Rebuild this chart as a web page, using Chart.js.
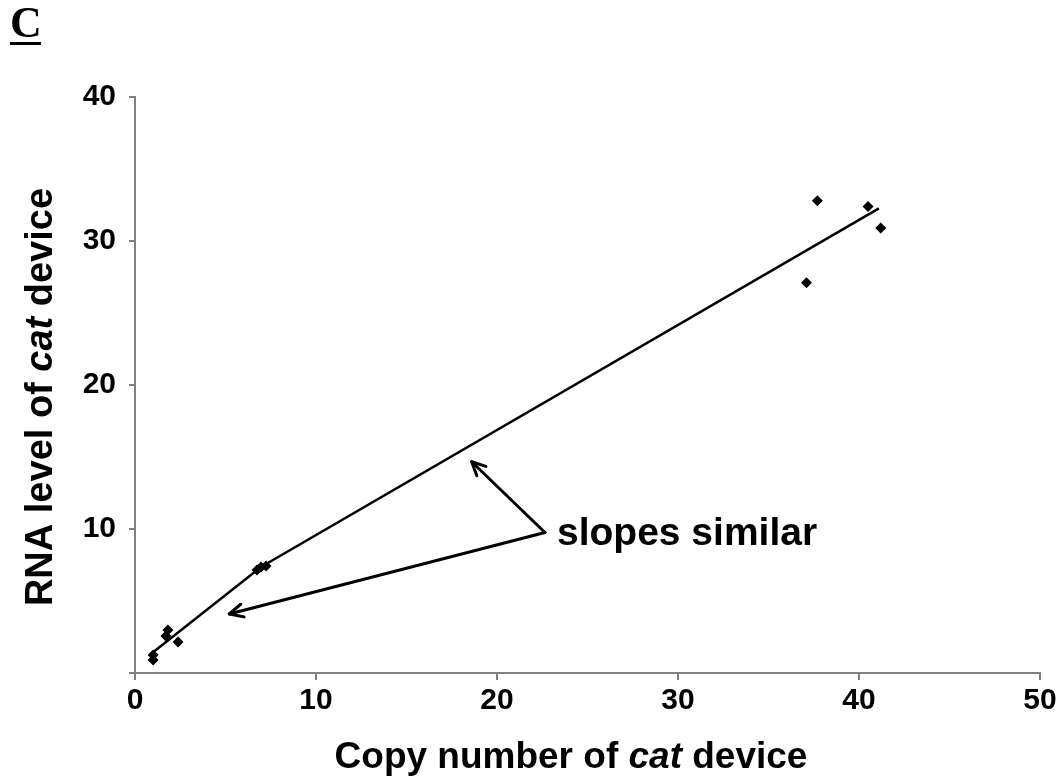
<!DOCTYPE html>
<html>
<head>
<meta charset="utf-8">
<script src="https://cdn.jsdelivr.net/npm/chart.js@4/dist/chart.umd.min.js"></script>
<style>
  html, body { margin: 0; padding: 0; background: #fff; }
  #wrap { width: 1062px; height: 780px; position: relative; }
</style>
</head>
<body>
<div id="wrap"><canvas id="copyChart" width="1062" height="780"></canvas></div>
<script>
// measured points (copy number vs RNA level)
const copyNumber = [1.0, 1.0, 1.71, 1.82, 2.38, 6.74, 6.96, 7.24, 37.1, 37.7, 40.5, 41.2];
const rnaLevel   = [1.25, 0.9, 2.57, 2.99, 2.15, 7.15, 7.36, 7.43, 27.1, 32.8, 32.4, 30.9];

// fitted line
const fitX = [1.05, 6.96, 41.1];
const fitY = [1.5, 7.36, 32.27];

const xTicks = [0, 10, 20, 30, 40, 50];
const yTicks = [10, 20, 30, 40];

const AXIS_GRAY = '#808080';
const FONT = 'Arial, "Liberation Sans", sans-serif';

// axis titles with an italic word, plus the "slopes similar" arrows and panel letter
const decorations = {
  id: 'decorations',
  afterDatasetsDraw(chart) {
    const { ctx, scales: { x, y } } = chart;
    ctx.save();
    ctx.fillStyle = '#000';
    ctx.strokeStyle = '#000';

    // arrows
    const tail = { x: 22.65, y: 9.76 };
    const tips = [{ x: 18.6, y: 14.67 }, { x: 5.21, y: 4.1 }];
    const tx = x.getPixelForValue(tail.x), ty = y.getPixelForValue(tail.y);
    ctx.lineWidth = 3;
    ctx.lineCap = 'round';
    ctx.lineJoin = 'round';
    tips.forEach(t => {
      const px = x.getPixelForValue(t.x), py = y.getPixelForValue(t.y);
      ctx.beginPath();
      ctx.moveTo(tx, ty);
      ctx.lineTo(px, py);
      ctx.stroke();
      const ang = Math.atan2(ty - py, tx - px);
      const len = 15, spread = 0.45;
      ctx.beginPath();
      ctx.moveTo(px + len * Math.cos(ang - spread), py + len * Math.sin(ang - spread));
      ctx.lineTo(px, py);
      ctx.lineTo(px + len * Math.cos(ang + spread), py + len * Math.sin(ang + spread));
      ctx.stroke();
    });

    // annotation text
    ctx.font = 'bold 39px ' + FONT;
    ctx.textBaseline = 'alphabetic';
    ctx.textAlign = 'left';
    ctx.fillText('slopes similar', tx + 12, ty + 13);

    // mixed style titles
    const parts = [
      ['Copy number of ', 'bold'],
      ['cat', 'italic bold'],
      [' device', 'bold']
    ];
    const yParts = [
      ['RNA level of ', 'bold'],
      ['cat', 'italic bold'],
      [' device', 'bold']
    ];
    function drawMixed(list, cx, baseY, size) {
      let total = 0;
      list.forEach(p => {
        ctx.font = p[1] + ' ' + size + 'px ' + FONT;
        total += ctx.measureText(p[0]).width;
      });
      let cur = cx - total / 2;
      list.forEach(p => {
        ctx.font = p[1] + ' ' + size + 'px ' + FONT;
        ctx.fillText(p[0], cur, baseY);
        cur += ctx.measureText(p[0]).width;
      });
    }
    drawMixed(parts, 571, 768, 37);

    ctx.save();
    ctx.translate(52, 397);
    ctx.rotate(-Math.PI / 2);
    drawMixed(yParts, 0, 0, 38);
    ctx.restore();

    // panel letter
    ctx.font = 'bold 44px "Liberation Serif", "Times New Roman", serif';
    ctx.fillText('C', 10, 37);
    ctx.fillRect(10, 42, 31, 3);

    ctx.restore();
  }
};

const ctx = document.getElementById('copyChart').getContext('2d');
new Chart(ctx, {
  type: 'scatter',
  data: {
    datasets: [
      {
        label: 'measured',
        data: copyNumber.map((v, i) => ({ x: v, y: rnaLevel[i] })),
        pointStyle: 'rectRot',
        pointRadius: 5.5,
        backgroundColor: '#000',
        borderColor: '#000',
        borderWidth: 0
      },
      {
        label: 'fit',
        type: 'line',
        data: fitX.map((v, i) => ({ x: v, y: fitY[i] })),
        borderColor: '#000',
        borderWidth: 2.5,
        pointRadius: 0,
        tension: 0,
        fill: false
      }
    ]
  },
  options: {
    responsive: false,
    animation: false,
    devicePixelRatio: 1,
    layout: { padding: { top: 97, right: 22, left: 0, bottom: 0 } },
    plugins: {
      legend: { display: false },
      tooltip: { enabled: false }
    },
    scales: {
      x: {
        type: 'linear',
        min: 0,
        max: 50,
        afterBuildTicks: s => { s.ticks = xTicks.map(v => ({ value: v })); },
        afterFit: s => { s.height = 107; },
        border: { color: AXIS_GRAY, width: 2 },
        grid: { drawOnChartArea: false, color: AXIS_GRAY, tickLength: 7, lineWidth: 2 },
        ticks: { color: '#000', padding: 3, font: { family: FONT, size: 30, weight: 'bold' } }
      },
      y: {
        type: 'linear',
        min: 0,
        max: 40,
        afterBuildTicks: s => { s.ticks = [0].concat(yTicks).map(v => ({ value: v })); },
        afterFit: s => { s.width = 135; },
        border: { color: AXIS_GRAY, width: 2 },
        grid: { drawOnChartArea: false, color: AXIS_GRAY, tickLength: 6, lineWidth: 2 },
        ticks: {
          color: '#000',
          padding: 13,
          font: { family: FONT, size: 30, weight: 'bold' },
          callback: v => (v === 0 ? '' : v)
        }
      }
    }
  },
  plugins: [decorations]
});
</script>
</body>
</html>
